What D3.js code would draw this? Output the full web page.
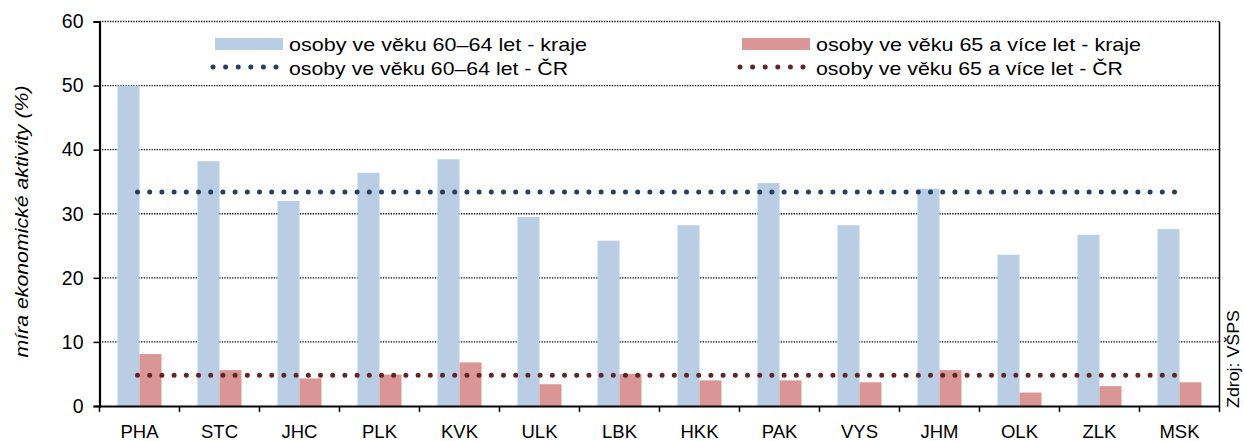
<!DOCTYPE html>
<html>
<head>
<meta charset="utf-8">
<script src="https://cdn.jsdelivr.net/npm/d3@7"></script>
<style>
  body { margin: 0; background: white; }
  text { font-family: "Liberation Sans", Arial, sans-serif; fill: #000; }
</style>
</head>
<body>
<div id="chart"></div>
<script>
var kraje = ["PHA", "STC", "JHC", "PLK", "KVK", "ULK", "LBK", "HKK", "PAK", "VYS", "JHM", "OLK", "ZLK", "MSK"];
var vek6064 = [50.0, 38.2, 32.0, 36.4, 38.5, 29.5, 25.8, 28.2, 34.8, 28.2, 33.9, 23.6, 26.7, 27.6];
var vek65 = [8.1, 5.6, 4.3, 4.9, 6.8, 3.4, 5.0, 4.0, 4.0, 3.7, 5.6, 2.1, 3.1, 3.7];
var cr6064 = 33.4;
var cr65 = 4.8;
var yTicks = [0, 10, 20, 30, 40, 50, 60];
var legendLabels = [
  "osoby ve věku 60–64 let - kraje",
  "osoby ve věku 65 a více let - kraje",
  "osoby ve věku 60–64 let - ČR",
  "osoby ve věku 65 a více let - ČR"
];

var W = 1244, H = 441;
var margin = {top: 21.5, right: 24.5, bottom: 35, left: 99.5};
var iw = W - margin.left - margin.right,
    ih = H - margin.top - margin.bottom;

var blue = "#b9cde5", red = "#d99694", blueDot = "#243f60", redDot = "#632523";

var svg = d3.select("#chart").append("svg")
  .attr("width", W).attr("height", H);

var g = svg.append("g")
  .attr("transform", "translate(" + margin.left + "," + margin.top + ")");

var x = d3.scaleBand().domain(kraje).range([0, iw]);
var y = d3.scaleLinear().domain([0, 60]).range([ih, 0]);

// gridlines
g.append("g").selectAll("line")
  .data(yTicks.filter(function(d) { return d > 0; }))
  .enter().append("line")
    .attr("x1", 0).attr("x2", iw)
    .attr("y1", function(d) { return y(d); })
    .attr("y2", function(d) { return y(d); })
    .attr("stroke", "#000")
    .attr("stroke-width", 1.3)
    .attr("stroke-dasharray", "1.3,1.3");

// bars
var bw = 22;
var bars = g.append("g");
bars.selectAll(".b1").data(kraje).enter().append("rect")
  .attr("x", function(d) { return x(d) + x.bandwidth() / 2 - bw; })
  .attr("y", function(d, i) { return y(vek6064[i]); })
  .attr("width", bw)
  .attr("height", function(d, i) { return ih - y(vek6064[i]); })
  .attr("fill", blue);
bars.selectAll(".b2").data(kraje).enter().append("rect")
  .attr("x", function(d) { return x(d) + x.bandwidth() / 2; })
  .attr("y", function(d, i) { return y(vek65[i]); })
  .attr("width", bw)
  .attr("height", function(d, i) { return ih - y(vek65[i]); })
  .attr("fill", red);

// CR lines
var x0 = x(kraje[0]) + x.bandwidth() / 2 - 2,
    x1 = x(kraje[kraje.length - 1]) + x.bandwidth() / 2;
[[cr6064, blueDot], [cr65, redDot]].forEach(function(c) {
  g.append("line")
    .attr("x1", x0).attr("x2", x1)
    .attr("y1", y(c[0])).attr("y2", y(c[0]))
    .attr("stroke", c[1])
    .attr("stroke-width", 5)
    .attr("stroke-linecap", "round")
    .attr("stroke-dasharray", "0,12.2");
});

// right border
g.append("line")
  .attr("x1", iw).attr("x2", iw).attr("y1", 0).attr("y2", ih)
  .attr("stroke", "#000").attr("stroke-width", 1.5);

// axes
var yAxis = g.append("g")
  .call(d3.axisLeft(y).tickValues(yTicks).tickSize(6).tickPadding(10));
var xAxis = g.append("g")
  .attr("transform", "translate(0," + ih + ")")
  .call(d3.axisBottom(x).tickSize(0).tickPadding(12));

xAxis.selectAll(".tick").remove();
xAxis.append("g").selectAll("line")
  .data(d3.range(kraje.length + 1))
  .enter().append("line")
    .attr("x1", function(d) { return d * x.step(); })
    .attr("x2", function(d) { return d * x.step(); })
    .attr("y1", 0).attr("y2", 6)
    .attr("stroke", "#000").attr("stroke-width", 1.5);
xAxis.append("g").selectAll("text")
  .data(kraje)
  .enter().append("text")
    .attr("x", function(d) { return x(d) + x.bandwidth() / 2; })
    .attr("y", 31.5)
    .attr("text-anchor", "middle")
    .attr("font-size", 18.5)
    .text(function(d) { return d; });

[yAxis, xAxis].forEach(function(a) {
  a.select(".domain").attr("stroke", "#000").attr("stroke-width", 2.2);
  a.selectAll(".tick line").attr("stroke", "#000").attr("stroke-width", 1.5);
});
yAxis.selectAll(".tick text")
  .attr("font-size", 19.5)
  .attr("font-family", "Liberation Sans, Arial, sans-serif")
  .attr("fill", "#000");

// y title
svg.append("text")
  .attr("transform", "translate(28," + 221.5 + ") rotate(-90)")
  .attr("text-anchor", "middle")
  .attr("font-size", 19)
  .attr("font-style", "italic")
  .attr("textLength", 272)
  .attr("lengthAdjust", "spacingAndGlyphs")
  .text("míra ekonomické aktivity (%)");

// source
svg.append("text")
  .attr("transform", "translate(1238.5,408) rotate(-90)")
  .attr("text-anchor", "start")
  .attr("font-size", 16)
  .attr("textLength", 98)
  .attr("lengthAdjust", "spacingAndGlyphs")
  .text("Zdroj: VŠPS");

// legend
var leg = svg.append("g");
var legPos = [[215, 38], [742, 38], [215, 62], [742, 62]];
var legLen = [298, 325, 279, 307];
legPos.forEach(function(p, i) {
  if (i < 2) {
    leg.append("rect")
      .attr("x", p[0]).attr("y", p[1])
      .attr("width", 68).attr("height", 12)
      .attr("fill", i === 0 ? blue : red);
  } else {
    leg.append("line")
      .attr("x1", p[0] - 2).attr("x2", p[0] + 62)
      .attr("y1", p[1] + 5).attr("y2", p[1] + 5)
      .attr("stroke", i === 2 ? blueDot : redDot)
      .attr("stroke-width", 5)
      .attr("stroke-linecap", "round")
      .attr("stroke-dasharray", "0,12.6");
  }
  leg.append("text")
    .attr("x", p[0] + 74).attr("y", p[1] + 12.5)
    .attr("font-size", 18.5)
    .attr("textLength", legLen[i])
    .attr("lengthAdjust", "spacingAndGlyphs")
    .text(legendLabels[i]);
});
</script>
</body>
</html>
